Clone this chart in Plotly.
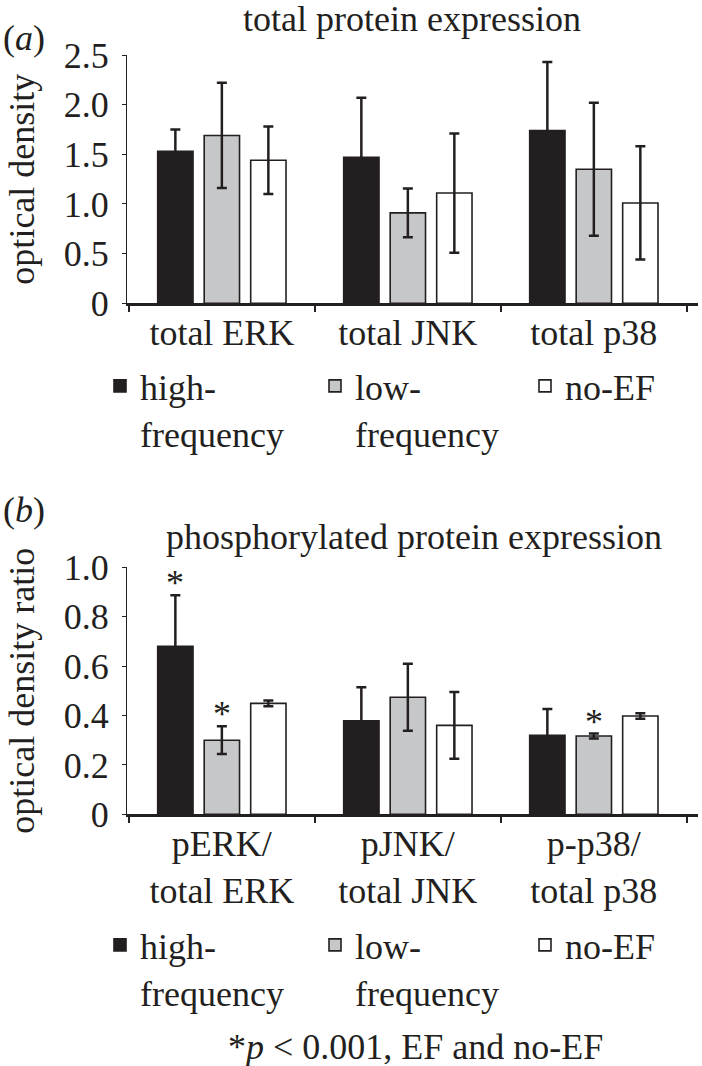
import plotly.graph_objects as go

# ---------------- data ----------------
cats_a = ["total ERK", "total JNK", "total p38"]
cats_b = ["pERK/<br>total ERK", "pJNK/<br>total JNK", "p-p38/<br>total p38"]
series_names = ["high-<br>frequency", "low-<br>frequency", "no-EF"]

# panel (a): total protein expression (optical density)
high_a = [1.53, 1.47, 1.74]
high_a_err = [0.22, 0.60, 0.69]
low_a = [1.69, 0.91, 1.35]
low_a_err = [0.53, 0.245, 0.67]
noef_a = [1.44, 1.11, 1.01]
noef_a_err = [0.34, 0.60, 0.57]

# panel (b): phosphorylated protein expression (optical density ratio)
high_b = [0.68, 0.379, 0.32]
high_b_err = [0.207, 0.135, 0.106]
low_b = [0.30, 0.474, 0.317]
low_b_err = [0.056, 0.136, 0.010]
noef_b = [0.449, 0.36, 0.398]
noef_b_err = [0.012, 0.135, 0.011]

# significance markers (*) in panel (b)
star_high_b = [True, False, False]
star_low_b = [True, False, True]
star_noef_b = [False, False, False]

yticks_a = [0, 0.5, 1.0, 1.5, 2.0, 2.5]
yticklabels_a = ["0", "0.5", "1.0", "1.5", "2.0", "2.5"]
yticks_b = [0, 0.2, 0.4, 0.6, 0.8, 1.0]
yticklabels_b = ["0", "0.2", "0.4", "0.6", "0.8", "1.0"]

# ---------------- style ----------------
INK = "#231f20"
GREY = "#c6c7c8"
FONT = "Liberation Serif"
FS = 36
W, H = 702, 1066
L, R = 127, 4
BARGAP = 0.25
BARGROUPGAP = 0.24

fills = [INK, GREY, "#ffffff"]
legend_x_px = [100, 315, 525]          # left edge of each legend entry
legend_top_px = {"a": 356, "b": 915}   # top of legend rows

fig = go.Figure()

def add_panel(cats, vals, errs, xa, ya, legend_ids):
    for i, (name, v, e) in enumerate(zip(series_names, vals, errs)):
        fig.add_trace(go.Bar(
            x=cats, y=v, name=name,
            marker=dict(color=fills[i], line=dict(color=INK, width=1.6)),
            error_y=dict(type="data", array=e, visible=True, color=INK,
                         thickness=2.5, width=5),
            xaxis=xa, yaxis=ya, legend=legend_ids[i], offsetgroup=str(i),
        ))

add_panel(cats_a, [high_a, low_a, noef_a], [high_a_err, low_a_err, noef_a_err],
          "x", "y", ["legend", "legend2", "legend3"])
add_panel(cats_b, [high_b, low_b, noef_b], [high_b_err, low_b_err, noef_b_err],
          "x2", "y2", ["legend4", "legend5", "legend6"])

# asterisks above significant bars in panel (b)
slot = (1 - BARGAP) / 3
for si, (flags, vals, errs) in enumerate(zip([star_high_b, star_low_b, star_noef_b],
                                             [high_b, low_b, noef_b],
                                             [high_b_err, low_b_err, noef_b_err])):
    for ci, f in enumerate(flags):
        if f:
            fig.add_annotation(x=ci + (si - 1) * slot, y=vals[ci] + errs[ci],
                               xref="x2", yref="y2", text="*", showarrow=False,
                               xanchor="center", yanchor="bottom", yshift=-10,
                               font=dict(family=FONT, size=FS, color=INK))

def ypix(p):
    return 1 - p / H

def xpix(p):
    return (p - L) / (W - L - R)

dom_a = [ypix(303.3), ypix(55)]
dom_b = [ypix(814.3), ypix(567.3)]

xcommon = dict(showline=True, linecolor=INK, linewidth=2.5, ticks="outside",
               tickson="boundaries", ticklen=6, tickwidth=1.5, tickcolor=INK,
               showgrid=False, zeroline=False, range=[-0.51, 2.56],
               ticklabelstandoff=-4, automargin=False,
               tickfont=dict(family=FONT, size=FS, color=INK))
ycommon = dict(showline=True, linecolor=INK, linewidth=1.2, ticks="outside",
               ticklen=4, tickwidth=1.2, tickcolor=INK, showgrid=False,
               zeroline=False, ticklabelstandoff=6, automargin=False,
               tickfont=dict(family=FONT, size=FS, color=INK))

legend_common = dict(xref="paper", yref="paper", xanchor="left",
                     yanchor="top", valign="top", orientation="h",
                     font=dict(family=FONT, size=FS, color=INK),
                     bgcolor="rgba(0,0,0,0)")
legends = {}
for k, panel in enumerate(["a", "b"]):
    for i in range(3):
        key = "legend" if (k == 0 and i == 0) else f"legend{k * 3 + i + 1}"
        legends[key] = dict(x=xpix(legend_x_px[i]),
                            y=ypix(legend_top_px[panel]), **legend_common)

fig.update_layout(
    width=W, height=H,
    margin=dict(l=L, r=R, t=0, b=0, autoexpand=False),
    paper_bgcolor="white", plot_bgcolor="white",
    barmode="group", bargap=BARGAP, bargroupgap=BARGROUPGAP,
    font=dict(family=FONT, size=FS, color=INK),
    xaxis=dict(domain=[0, 1], anchor="y", **xcommon),
    yaxis=dict(domain=dom_a, anchor="x", range=[0, 2.5], tickvals=yticks_a,
               ticktext=yticklabels_a,
               title=dict(text="optical density", standoff=18,
                          font=dict(family=FONT, size=FS, color=INK)),
               **ycommon),
    xaxis2=dict(domain=[0, 1], anchor="y2", **xcommon),
    yaxis2=dict(domain=dom_b, anchor="x2", range=[0, 1.0], tickvals=yticks_b,
                ticktext=yticklabels_b,
                title=dict(text="optical density ratio", standoff=18,
                           font=dict(family=FONT, size=FS, color=INK)),
                **ycommon),
    showlegend=True,
    **legends,
)

# panel titles and labels
def label(text, px, py):
    fig.add_annotation(x=xpix(px), y=ypix(py), xref="paper", yref="paper",
                       text=text, showarrow=False, xanchor="center",
                       yanchor="middle",
                       font=dict(family=FONT, size=FS, color=INK))

label("total protein expression", 412, 19)
label("phosphorylated protein expression", 414, 537)
label("(<i>a</i>)", 23.5, 37.5)
label("(<i>b</i>)", 23.5, 510)
label("*<i>p</i> < 0.001, EF and no-EF", 415, 1047)

fig.write_html("out.html", config={"displayModeBar": False},
               post_script="document.body.style.margin='0';")
